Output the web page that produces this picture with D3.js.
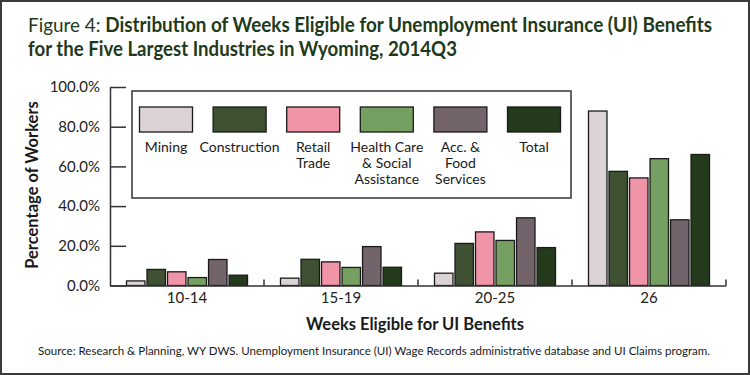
<!DOCTYPE html>
<html>
<head>
<meta charset="utf-8">
<script src="https://cdn.jsdelivr.net/npm/d3@7"></script>
<style>
  html, body { margin: 0; padding: 0; background: #fff; }
  svg { display: block; }
  text { font-family: Lato, "Open Sans", sans-serif; }
</style>
</head>
<body>
<div id="chart"></div>
<script>
// weeks eligible groups
const groups = ['10-14', '15-19', '20-25', '26'];
const industries = ['Mining', 'Construction', 'Retail Trade', 'Health Care & Social Assistance', 'Acc. & Food Services', 'Total'];
const legendLines = [['Mining'], ['Construction'], ['Retail', 'Trade'], ['Health Care', '& Social', 'Assistance'], ['Acc. &', 'Food', 'Services'], ['Total']];
const colors = ['#dcd3d7', '#3e5133', '#f094a8', '#76a062', '#73636a', '#243a1d'];

// percent of workers, one array per industry (order of groups)
const mining       = [2.3, 3.7, 6.2, 87.9];
const construction = [8.1, 13.2, 21.2, 57.5];
const retail       = [6.9, 11.9, 27.0, 54.2];
const health       = [4.0, 9.1, 22.7, 63.9];
const accFood      = [13.1, 19.6, 34.1, 33.1];
const total        = [5.2, 9.2, 19.1, 66.0];
const series = [mining, construction, retail, health, accFood, total];

const yTicks = [0, 20, 40, 60, 80, 100];

const W = 750, H = 375;
const svg = d3.select('#chart').append('svg')
  .attr('width', W).attr('height', H);

// outer frame
svg.append('rect')
  .attr('x', 1).attr('y', 1).attr('width', W - 2).attr('height', H - 2)
  .attr('fill', '#fff').attr('stroke', '#3a3a3a').attr('stroke-width', 2);

// title
const title = svg.append('g').attr('fill', '#1f3a1a');
const t1 = title.append('text').attr('x', 28).attr('y', 32)
  .attr('font-size', 20).attr('textLength', 684).attr('lengthAdjust', 'spacingAndGlyphs');
t1.append('tspan').text('Figure 4: ');
t1.append('tspan').attr('font-weight', 'bold').text('Distribution of Weeks Eligible for Unemployment Insurance (UI) Benefits');
title.append('text').attr('x', 28).attr('y', 56)
  .attr('font-size', 20).attr('font-weight', 'bold')
  .attr('textLength', 429).attr('lengthAdjust', 'spacingAndGlyphs')
  .text('for the Five Largest Industries in Wyoming, 2014Q3');

// scales
const x0 = d3.scaleBand().domain(groups).range([110, 726]);
const x1 = d3.scaleBand().domain(d3.range(industries.length))
  .range([16.5, x0.bandwidth() - 16.5]).paddingInner(0.1);
const y = d3.scaleLinear().domain([0, 100]).range([285.5, 87]);

// y axis
const yAxis = svg.append('g')
  .attr('transform', 'translate(110,0)')
  .call(d3.axisLeft(y).tickValues(yTicks).tickSize(-16).tickSizeOuter(0).tickPadding(10)
    .tickFormat(d => d.toFixed(1) + '%'));
yAxis.selectAll('line, path').attr('stroke', '#333').attr('stroke-width', 1.5);
yAxis.selectAll('text').attr('fill', '#222')
  .style('font-family', 'Lato, sans-serif').attr('font-size', 15);

// bars
const bars = svg.append('g');
groups.forEach((g, gi) => {
  series.forEach((vals, si) => {
    bars.append('rect')
      .attr('x', x0(g) + x1(si))
      .attr('y', y(vals[gi]))
      .attr('width', x1.bandwidth())
      .attr('height', y(0) - y(vals[gi]))
      .attr('fill', colors[si])
      .attr('stroke', '#1a1a1a')
      .attr('stroke-width', 1.3);
  });
});

// x axis
const xAxis = svg.append('g')
  .attr('transform', 'translate(0,285.5)')
  .call(d3.axisBottom(x0).tickSize(0).tickPadding(7).tickSizeOuter(0));
xAxis.select('.domain').attr('stroke', '#333').attr('stroke-width', 1.5);
xAxis.selectAll('text').attr('font-size', 15).attr('fill', '#222')
  .style('font-family', 'Lato, sans-serif');
xAxis.selectAll('.sep')
  .data(groups)
  .enter().append('line')
    .attr('class', 'sep')
    .attr('x1', d => x0(d) + x0.bandwidth()).attr('x2', d => x0(d) + x0.bandwidth())
    .attr('y1', 0).attr('y2', -6)
    .attr('stroke', '#333').attr('stroke-width', 1.5);

// axis titles
svg.append('text')
  .attr('transform', 'translate(38,185) rotate(-90)')
  .attr('text-anchor', 'middle').attr('font-size', 16.5).attr('font-weight', 'bold').attr('fill', '#1a1a1a')
  .text('Percentage of Workers');
svg.append('text')
  .attr('x', 415).attr('y', 330)
  .attr('text-anchor', 'middle').attr('font-size', 16.5).attr('font-weight', 'bold').attr('fill', '#1a1a1a')
  .text('Weeks Eligible for UI Benefits');

// source
svg.append('text')
  .attr('x', 38).attr('y', 355)
  .attr('font-size', 12).attr('fill', '#1a1a1a')
  .attr('textLength', 672).attr('lengthAdjust', 'spacingAndGlyphs')
  .text('Source:  Research & Planning, WY DWS. Unemployment Insurance (UI) Wage Records administrative database and UI Claims program.');

// legend
const legend = svg.append('g');
legend.append('rect')
  .attr('x', 132).attr('y', 91).attr('width', 439).attr('height', 107)
  .attr('fill', '#fff').attr('stroke', '#333').attr('stroke-width', 1.5);
const lx = d3.scalePoint().domain(d3.range(industries.length)).range([166, 534]);
industries.forEach((name, i) => {
  legend.append('rect')
    .attr('x', lx(i) - 26.5).attr('y', 107).attr('width', 53).attr('height', 25)
    .attr('fill', colors[i]).attr('stroke', '#1a1a1a').attr('stroke-width', 1.3);
  legendLines[i].forEach((line, li) => {
    legend.append('text')
      .attr('x', lx(i)).attr('y', 152 + li * 16)
      .attr('text-anchor', 'middle').attr('font-size', 14).attr('fill', '#1a1a1a')
      .text(line);
  });
});
</script>
</body>
</html>
